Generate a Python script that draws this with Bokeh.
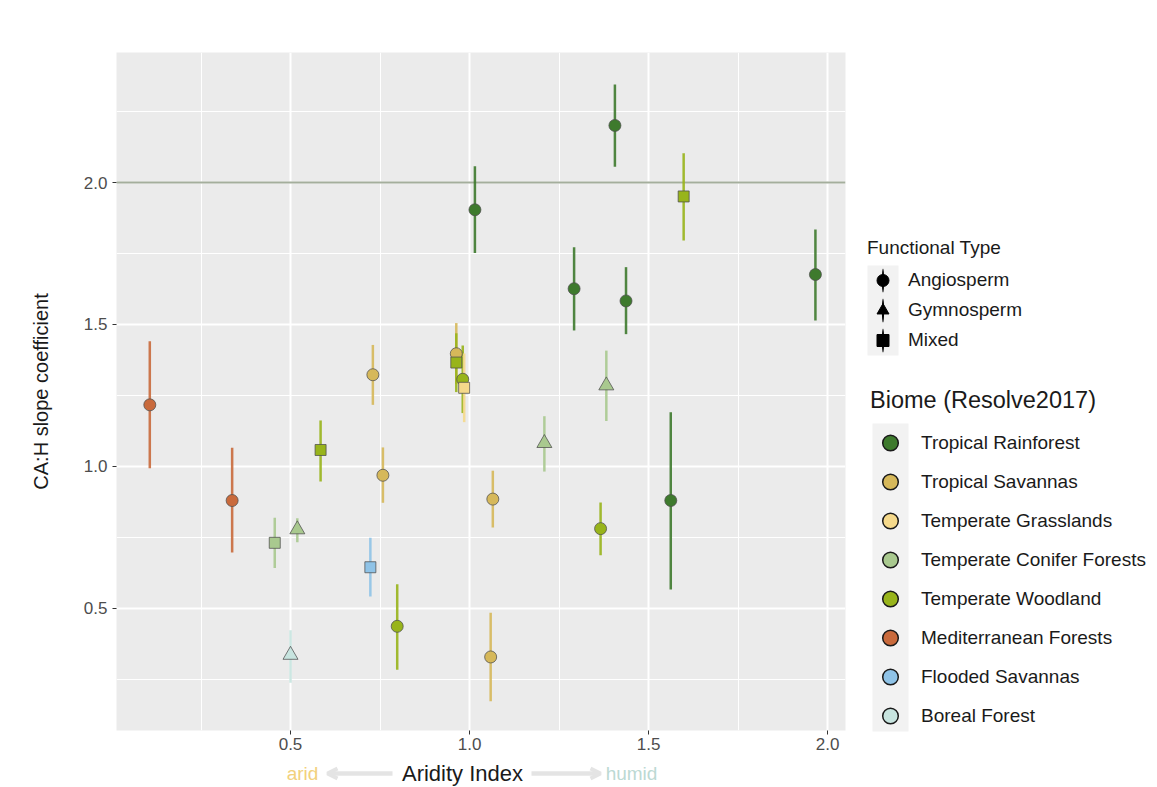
from bokeh.plotting import figure
from bokeh.models import (ColumnDataSource, FixedTicker, PrintfTickFormatter, Span, Label,
                          Arrow, OpenHead, Legend, LegendItem, Range1d)
from bokeh.layouts import row, column
from bokeh.embed import file_html
from bokeh.resources import INLINE
from bokeh.core.properties import value, field

# ---------------- data ----------------
biome_names = ["Tropical Rainforest", "Tropical Savannas", "Temperate Grasslands",
               "Temperate Conifer Forests", "Temperate Woodland", "Mediterranean Forests",
               "Flooded Savannas", "Boreal Forest"]
biome_colors = ["#3e7a2d", "#d6b85a", "#f5d98b", "#a9c98f", "#98b41b", "#c96a3c",
                "#8fc3e7", "#c7e4df"]
ftype_names = ["Angiosperm", "Gymnosperm", "Mixed"]
ftype_markers = ["circle", "triangle", "square"]

biome = ["Tropical Rainforest"] * 6 + ["Tropical Savannas"] * 5 + \
        ["Temperate Conifer Forests"] * 4 + ["Temperate Woodland"] * 6 + \
        ["Temperate Grasslands"] + ["Mediterranean Forests"] * 2 + \
        ["Flooded Savannas"] + ["Boreal Forest"]
ftype = ["Angiosperm"] * 6 + ["Angiosperm"] * 5 + \
        ["Mixed", "Gymnosperm", "Gymnosperm", "Gymnosperm"] + \
        ["Mixed", "Angiosperm", "Mixed", "Angiosperm", "Angiosperm", "Mixed"] + \
        ["Mixed"] + ["Angiosperm", "Angiosperm"] + ["Mixed"] + ["Gymnosperm"]
aridity = [1.015, 1.406, 1.292, 1.437, 1.966, 1.562,
           0.730, 0.758, 1.065, 1.059, 0.963,
           0.456, 0.519, 1.209, 1.382,
           0.963, 0.981, 0.584, 0.798, 1.366, 1.598,
           0.985,
           0.107, 0.337,
           0.723,
           0.500]
slope = [1.904, 2.201, 1.626, 1.583, 1.676, 0.880,
         1.323, 0.969, 0.885, 0.329, 1.397,
         0.731, 0.778, 1.082, 1.285,
         1.366, 1.307, 1.058, 0.437, 0.781, 1.951,
         1.277,
         1.217, 0.880,
         0.645,
         0.336]
slope_lo = [1.752, 2.056, 1.479, 1.466, 1.514, 0.567,
            1.217, 0.872, 0.785, 0.173, 1.290,
            0.642, 0.733, 0.982, 1.160,
            1.262, 1.188, 0.947, 0.284, 0.687, 1.796,
            1.156,
            0.994, 0.697,
            0.542,
            0.238]
slope_hi = [2.057, 2.345, 1.772, 1.702, 1.835, 1.191,
            1.428, 1.067, 0.985, 0.485, 1.505,
            0.819, 0.818, 1.177, 1.408,
            1.469, 1.426, 1.162, 0.585, 0.873, 2.103,
            1.398,
            1.441, 1.066,
            0.749,
            0.423]
ref_slope = 2.0

x_ticks = [0.5, 1.0, 1.5, 2.0]
x_minor = [0.25, 0.75, 1.25, 1.75]
y_ticks = [0.5, 1.0, 1.5, 2.0]
y_minor = [0.25, 0.75, 1.25, 1.75, 2.25]

# ---------------- styles ----------------
FONT = "Liberation Sans"
color_of = dict(zip(biome_names, biome_colors))
marker_of = dict(zip(ftype_names, ftype_markers))
size_of = {"circle": 12, "triangle": 15, "square": 11}

src = ColumnDataSource(dict(
    x=aridity, y=slope, lo=slope_lo, hi=slope_hi,
    color=[color_of[b] for b in biome],
    marker=[marker_of[f] for f in ftype],
    size=[size_of[marker_of[f]] for f in ftype],
))

TOTAL_W, TOTAL_H = 1157, 787
FRAME_L, FRAME_R = 116, 845
MAIN_W, MAIN_H = 859, 758

# ---------------- main panel ----------------
p = figure(width=MAIN_W, height=MAIN_H,
           x_range=(0.014, 2.050), y_range=(0.070, 2.458),
           min_border_left=FRAME_L, min_border_right=MAIN_W - FRAME_R,
           min_border_top=52, min_border_bottom=28,
           background_fill_color="#ebebeb", border_fill_color="white",
           outline_line_color=None, output_backend="svg", toolbar_location=None)

for g in (p.xgrid, p.ygrid):
    g.grid_line_color = "white"
    g.grid_line_width = 2
    g.minor_grid_line_color = "white"
    g.minor_grid_line_width = 1

p.xaxis.ticker = FixedTicker(ticks=x_ticks, minor_ticks=x_minor)
p.yaxis.ticker = FixedTicker(ticks=y_ticks, minor_ticks=y_minor)
for ax in (p.xaxis, p.yaxis):
    ax.formatter = PrintfTickFormatter(format="%.1f")
    ax.axis_line_color = None
    ax.major_tick_line_color = "#333333"
    ax.major_tick_out = 4
    ax.major_tick_in = 0
    ax.minor_tick_line_color = None
    ax.major_label_text_font = FONT
    ax.major_label_text_font_size = "17px"
    ax.major_label_text_color = "#4d4d4d"
p.xaxis.major_label_standoff = 3
p.yaxis.major_label_standoff = 5
p.yaxis.axis_label = "CA:H slope coefficient"
p.yaxis.axis_label_text_font = FONT
p.yaxis.axis_label_text_font_size = "20px"
p.yaxis.axis_label_text_font_style = "normal"
p.yaxis.axis_label_text_color = "#1a1a1a"
p.yaxis.axis_label_standoff = 29

p.add_layout(Span(location=ref_slope, dimension="width", line_color="#a4ae9c",
                  line_width=2, level="underlay"))

p.segment(x0="x", y0="lo", x1="x", y1="hi", line_color="color", line_width=2.5,
          line_alpha=0.9, source=src)
p.scatter(x="x", y="y", marker=field("marker"), size="size", fill_color="color",
          line_color="#4d4d4d", line_alpha=0.75, line_width=1, source=src)

# ---------------- strip under the x axis (page pixel coordinates) ----------------
STRIP_H = TOTAL_H - MAIN_H
q = figure(width=MAIN_W, height=STRIP_H, x_range=Range1d(FRAME_L, FRAME_R),
           y_range=Range1d(0, STRIP_H),
           min_border_left=FRAME_L, min_border_right=MAIN_W - FRAME_R,
           min_border_top=0, min_border_bottom=0,
           outline_line_color=None, background_fill_color="white",
           border_fill_color="white", output_backend="svg", toolbar_location=None)
q.axis.visible = False
q.grid.visible = False

ty = 14
q.add_layout(Label(x=462, y=ty, text="Aridity Index", text_align="center",
                   text_baseline="middle", text_font=FONT, text_font_size="22px",
                   text_color="#1a1a1a"))
q.add_layout(Label(x=302, y=ty, text="arid", text_align="center", text_baseline="middle",
                   text_font=FONT, text_font_size="19px", text_color="#f2d17c"))
q.add_layout(Label(x=631, y=ty, text="humid", text_align="center", text_baseline="middle",
                   text_font=FONT, text_font_size="19px", text_color="#bcd9d3"))
arrow_col = "#e4e4e4"
q.add_layout(Arrow(x_start=392, y_start=ty, x_end=327, y_end=ty,
                   line_color=arrow_col, line_width=4.5,
                   end=OpenHead(size=10, line_color=arrow_col, line_width=4)))
q.add_layout(Arrow(x_start=531, y_start=ty, x_end=600, y_end=ty,
                   line_color=arrow_col, line_width=4.5,
                   end=OpenHead(size=10, line_color=arrow_col, line_width=4)))

# ---------------- legend panel (pixel coordinates, y up) ----------------
LEG_W = TOTAL_W - MAIN_W
r = figure(width=LEG_W, height=TOTAL_H, x_range=Range1d(0, LEG_W), y_range=Range1d(0, TOTAL_H),
           min_border=0, outline_line_color=None, background_fill_color="white",
           border_fill_color="white", output_backend="svg", toolbar_location=None)
r.axis.visible = False
r.grid.visible = False

key_fill = "#f2f2f2"
r.quad(left=[8], right=[39], bottom=[432], top=[522], fill_color=key_fill, line_color=None)
r.quad(left=[13], right=[49], bottom=[56], top=[364], fill_color=key_fill, line_color=None)

off = [-100]
ft_items = []
for name, mk in zip(ftype_names, ftype_markers):
    bar = r.ellipse(x=off, y=off, width=2.5, height=26, width_units="screen",
                    height_units="screen", fill_color="black", line_color=None)
    dot = r.scatter(x=off, y=off, marker=mk, size=10, fill_color="black", line_color="black")
    ft_items.append(LegendItem(label=value(name), renderers=[bar, dot]))

bi_items = []
for name, col in zip(biome_names, biome_colors):
    rr = r.scatter(x=off, y=off, marker="circle", size=10, fill_color=col,
                   line_color="#1a1a1a", line_width=1.5)
    bi_items.append(LegendItem(label=value(name), renderers=[rr]))

common = dict(orientation="vertical", padding=0, margin=0, spacing=0,
              background_fill_alpha=0, border_line_color=None,
              label_text_font=FONT, label_text_font_size="19px", label_text_color="#1a1a1a",
              title_text_font=FONT, title_text_font_style="normal", title_text_color="#1a1a1a")

leg_ft = Legend(items=ft_items, title="Functional Type", location=(8, 432),
                glyph_width=31, glyph_height=30, label_standoff=10,
                title_text_font_size="19px", title_standoff=6, **common)
leg_bi = Legend(items=bi_items, title="Biome (Resolve2017)", location=(11, 52),
                glyph_width=40, glyph_height=39, label_standoff=11,
                title_text_font_size="23.5px", title_standoff=9, **common)
r.add_layout(leg_ft)
r.add_layout(leg_bi)

layout = row(column(p, q), r)
open("out.html", "w").write(file_html(layout, INLINE))
